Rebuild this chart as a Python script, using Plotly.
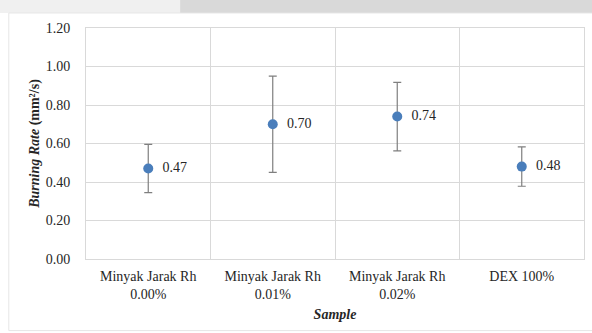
import plotly.graph_objects as go

categories = ["Minyak Jarak Rh<br>0.00%", "Minyak Jarak Rh<br>0.01%", "Minyak Jarak Rh<br>0.02%", "DEX 100%"]
burning_rate = [0.47, 0.70, 0.74, 0.48]
error = [0.125, 0.25, 0.178, 0.102]
labels = ["0.47", "0.70", "0.74", "0.48"]
y_ticks = [0.0, 0.2, 0.4, 0.6, 0.8, 1.0, 1.2]

xs = list(range(len(categories)))
font = "Liberation Serif, Times New Roman, serif"

fig = go.Figure()
fig.add_trace(go.Scatter(
    x=xs, y=burning_rate, mode="markers+text",
    text=["  " + t for t in labels], textposition="middle right",
    textfont=dict(family=font, size=14, color="#262626"),
    marker=dict(color="#4a7ebb", size=10),
    error_y=dict(type="data", array=error, color="#7f7f7f", thickness=1.2, width=4),
    cliponaxis=False,
))

fig.update_layout(
    width=592, height=333,
    margin=dict(l=86, r=8, t=28, b=74),
    paper_bgcolor="white", plot_bgcolor="white",
    showlegend=False,
    font=dict(family=font, size=14, color="#262626"),
    shapes=[
        dict(type="rect", xref="paper", yref="paper", x0=-0.18, x1=0.189, y0=1.065, y1=1.13,
             fillcolor="#f0f0f0", line=dict(width=0), layer="below"),
        dict(type="rect", xref="paper", yref="paper", x0=0.189, x1=1.02, y0=1.065, y1=1.13,
             fillcolor="#d9d9d9", line=dict(width=0), layer="below"),
        dict(type="rect", xref="paper", yref="paper", x0=-0.155, x1=1.03, y0=-0.31, y1=1.065,
             line=dict(color="#e6e6e6", width=1), layer="below"),
    ],
    xaxis=dict(
        range=[-0.5, 3.5], tickvals=xs, ticktext=categories,
        showgrid=False, zeroline=False,
        showline=True, linecolor="#d9d9d9", mirror=True,
        ticks="", ticklabelstandoff=4, tickfont=dict(family=font, size=14, color="#262626"),
        minor=dict(tickvals=[0.5, 1.5, 2.5], showgrid=True, gridcolor="#d9d9d9", gridwidth=1, ticks=""),
        title=dict(text="<b><i>Sample</i></b>", font=dict(family=font, size=14, color="#262626"), standoff=8),
    ),
    yaxis=dict(
        range=[0, 1.2], tickvals=y_ticks, tickformat=".2f",
        showgrid=True, gridcolor="#d9d9d9", gridwidth=1, zeroline=False,
        showline=True, linecolor="#d9d9d9", mirror=True,
        ticks="", ticklabelstandoff=12,
        tickfont=dict(family=font, size=14, color="#262626"),
        title=dict(text="<b><i>Burning Rate</i> (mm²/s)</b>", font=dict(family=font, size=14, color="#262626"), standoff=2),
    ),
)

fig.write_html("out.html", config={"displayModeBar": False},
               post_script="document.body.style.margin='0';")
